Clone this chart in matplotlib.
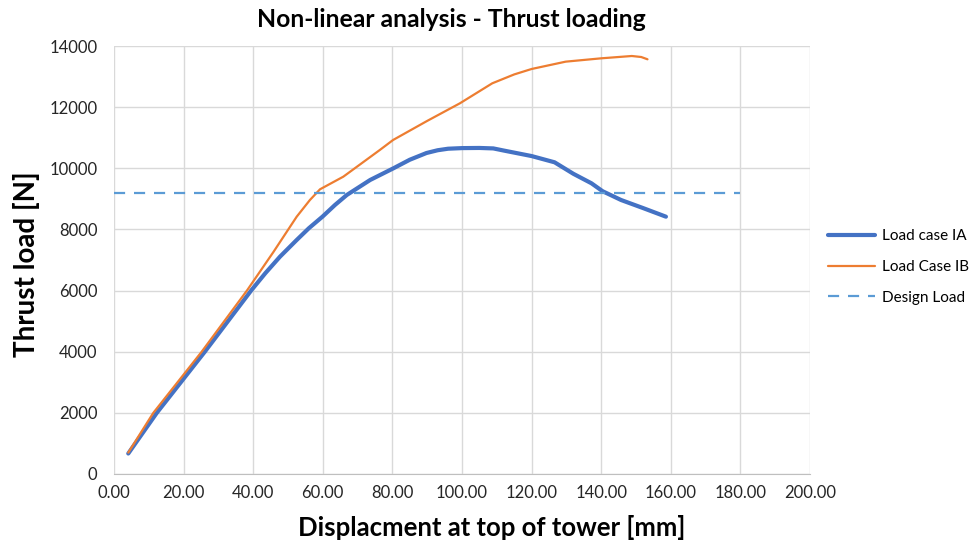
import numpy as np
import matplotlib.pyplot as plt
from matplotlib.ticker import FormatStrFormatter

# Load case IA (thick blue)
disp_ia = [4.1, 12.3, 26.1, 39.4, 43.5, 47.7, 52.5, 56.0, 59.9, 63.5, 66.9, 73.6, 80.3,
           85.0, 89.8, 93.0, 96.0, 100.0, 105.0, 109.0, 112.0, 116.0, 120.0, 126.6, 132.0,
           137.2, 140.4, 145.7, 152.0, 158.6]
load_ia = [670, 2000, 4000, 6000, 6570, 7109, 7655, 8040, 8417, 8800, 9127, 9617, 10000,
           10280, 10500, 10590, 10640, 10660, 10665, 10650, 10580, 10490, 10400, 10196, 9820,
           9509, 9250, 8963, 8700, 8417]

# Load case IB (thin orange)
disp_ib = [4.1, 11.3, 25.2, 38.2, 45.8, 52.5, 56.3, 59.2, 65.9, 70.0, 76.4, 80.2, 90.0,
           99.4, 108.7, 115.0, 120.0, 129.8, 140.0, 148.8, 151.5, 153.3]
load_ib = [700, 2000, 4000, 6000, 7260, 8417, 8963, 9313, 9726, 10067, 10600, 10926, 11550,
           12126, 12780, 13070, 13248, 13488, 13597, 13673, 13640, 13565]

# Design load line
design_x = [0.0, 180.0]
design_load = 9200

plt.rcParams['font.family'] = ['Lato', 'DejaVu Sans']

W, H = 978, 542
fig = plt.figure(figsize=(W/100, H/100), dpi=100)
ax = fig.add_axes([114/W, 1 - 474/H, (810 - 114)/W, (474 - 46)/H])

ax.plot(disp_ia, load_ia, color='#4472C4', lw=3.0, solid_capstyle='round',
        solid_joinstyle='round', label='Load case IA')
ax.plot(disp_ib, load_ib, color='#ED7D31', lw=1.6, solid_capstyle='round',
        solid_joinstyle='round', label='Load Case IB')
ax.plot(design_x, [design_load, design_load], color='#5B9BD5', lw=1.6,
        linestyle=(0, (5, 4)), label='Design Load')

ax.set_xlim(0, 200)
ax.set_ylim(0, 14000)
ax.set_xticks(np.arange(0, 201, 20))
ax.set_yticks(np.arange(0, 14001, 2000))
ax.xaxis.set_major_formatter(FormatStrFormatter('%.2f'))
ax.grid(True, color='#d9d9d9', lw=1.0)
ax.set_axisbelow(True)
for side in ['top', 'right', 'left']:
    ax.spines[side].set_visible(False)
ax.spines['bottom'].set_color('#bfbfbf')
ax.tick_params(length=0, labelsize=12, colors='#262626', pad=8)
ax.tick_params(axis='y', pad=12)

# titles placed in pixel terms
fig.text(451/W, 1 - 27/H, 'Non-linear analysis - Thrust loading', fontsize=17.8,
         fontweight='bold', ha='center', va='baseline')
fig.text(492/W, 1 - 536/H, 'Displacment at top of tower [mm]', fontsize=18.5,
         fontweight='bold', ha='center', va='baseline')
fig.text(27/W, 1 - 264/H, 'Thrust load [N]', fontsize=20, fontweight='bold',
         rotation=90, ha='center', va='center')

fig.legend(loc='center left', bbox_to_anchor=(822/W, 1 - 267/H), frameon=False,
           borderaxespad=0, fontsize=11, handlelength=3.1, labelspacing=1.1,
           handletextpad=0.45)

plt.savefig('out.png', dpi=100)
